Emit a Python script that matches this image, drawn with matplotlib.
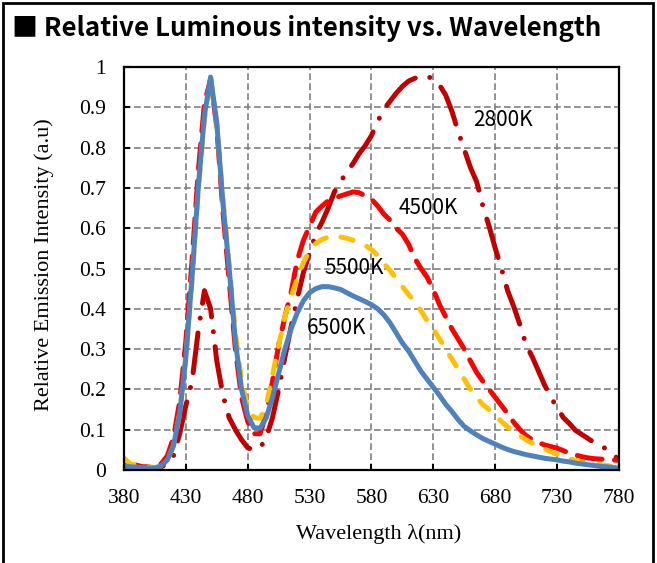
import matplotlib
matplotlib.use('Agg')
import matplotlib.pyplot as plt
from matplotlib.patches import Rectangle

# wavelength grid (nm)
wavelength = list(range(380, 781, 5))

# relative spectra per colour temperature
cct_2800 = [0.010, 0.008, 0.010, 0.006, 0.005, 0.005, 0.008, 0.015, 0.035, 0.090,
            0.160, 0.220, 0.345, 0.445, 0.400, 0.270, 0.185, 0.130, 0.100, 0.075,
            0.055, 0.050, 0.055, 0.080, 0.130, 0.200, 0.280, 0.355, 0.425, 0.490,
            0.540, 0.585, 0.615, 0.650, 0.690, 0.715, 0.740, 0.760, 0.785, 0.805,
            0.830, 0.865, 0.895, 0.915, 0.935, 0.952, 0.965, 0.972, 0.977, 0.977,
            0.970, 0.955, 0.930, 0.890, 0.840, 0.795, 0.750, 0.715, 0.655, 0.605,
            0.550, 0.500, 0.445, 0.405, 0.360, 0.310, 0.280, 0.245, 0.210, 0.180,
            0.155, 0.130, 0.115, 0.098, 0.088, 0.078, 0.068, 0.060, 0.052, 0.040,
            0.025]

cct_4500 = [0.012, 0.010, 0.012, 0.008, 0.008, 0.010, 0.015, 0.035, 0.080, 0.170,
            0.320, 0.520, 0.740, 0.910, 0.970, 0.850, 0.640, 0.470, 0.300, 0.180,
            0.120, 0.090, 0.090, 0.140, 0.220, 0.310, 0.380, 0.440, 0.520, 0.570,
            0.605, 0.640, 0.655, 0.668, 0.675, 0.680, 0.685, 0.690, 0.688, 0.680,
            0.672, 0.655, 0.635, 0.620, 0.600, 0.585, 0.560, 0.525, 0.500, 0.478,
            0.447, 0.410, 0.380, 0.350, 0.325, 0.300, 0.270, 0.242, 0.220, 0.200,
            0.180, 0.160, 0.140, 0.118, 0.100, 0.085, 0.075, 0.068, 0.062, 0.058,
            0.054, 0.048, 0.042, 0.037, 0.033, 0.030, 0.028, 0.027, 0.026, 0.025,
            0.024]

cct_5500 = [0.030, 0.015, 0.012, 0.010, 0.008, 0.006, 0.010, 0.025, 0.060, 0.140,
            0.280, 0.470, 0.690, 0.870, 0.965, 0.860, 0.670, 0.510, 0.340, 0.220,
            0.155, 0.130, 0.128, 0.160, 0.235, 0.310, 0.380, 0.430, 0.475, 0.515,
            0.545, 0.562, 0.572, 0.578, 0.580, 0.578, 0.575, 0.570, 0.565, 0.557,
            0.547, 0.532, 0.512, 0.495, 0.475, 0.455, 0.435, 0.418, 0.395, 0.370,
            0.350, 0.325, 0.300, 0.275, 0.250, 0.225, 0.200, 0.180, 0.162, 0.150,
            0.136, 0.120, 0.107, 0.095, 0.085, 0.075, 0.066, 0.059, 0.052, 0.045,
            0.039, 0.033, 0.028, 0.024, 0.020, 0.017, 0.015, 0.013, 0.011, 0.009,
            0.008]

cct_6500 = [0.010, 0.008, 0.007, 0.006, 0.005, 0.005, 0.010, 0.025, 0.060, 0.140,
            0.280, 0.480, 0.700, 0.880, 0.975, 0.860, 0.660, 0.500, 0.320, 0.200,
            0.135, 0.105, 0.104, 0.130, 0.180, 0.240, 0.300, 0.350, 0.390, 0.420,
            0.440, 0.450, 0.455, 0.455, 0.452, 0.448, 0.440, 0.432, 0.425, 0.418,
            0.410, 0.400, 0.385, 0.365, 0.340, 0.315, 0.295, 0.270, 0.245, 0.225,
            0.205, 0.185, 0.163, 0.145, 0.125, 0.108, 0.097, 0.087, 0.078, 0.071,
            0.064, 0.057, 0.051, 0.046, 0.042, 0.038, 0.035, 0.032, 0.029, 0.027,
            0.025, 0.022, 0.020, 0.017, 0.015, 0.013, 0.011, 0.009, 0.008, 0.006,
            0.005]

labels = ['2800K', '4500K', '5500K', '6500K']
label_pos = [(686, 0.868), (626, 0.650), (566, 0.501), (552, 0.352)]

plt.rcParams['font.family'] = ['Liberation Serif', 'DejaVu Serif']
sans = ['Noto Sans CJK KR', 'DejaVu Sans']

fig = plt.figure(figsize=(6.57, 5.63), dpi=100)
ax = fig.add_axes([124 / 657, 1 - 470 / 563, 495 / 657, 403 / 563])

lw = 3.6
ax.plot(wavelength, cct_2800, color='#C00000', lw=lw,
        dashes=(8, 3, 0.01, 3), dash_capstyle='round', solid_capstyle='round')
ax.plot(wavelength, cct_4500, color='#FF0000', lw=lw,
        dashes=(5, 2.5), dash_capstyle='round')
ax.plot(wavelength, cct_5500, color='#FFC000', lw=lw,
        dashes=(2.5, 3), dash_capstyle='round')
ax.plot(wavelength, cct_6500, color='#4F81BD', lw=lw,
        solid_capstyle='round', solid_joinstyle='round')

for text, (x, y) in zip(labels, label_pos):
    ax.text(x, y, text, fontsize=15, family=sans, ha='center', va='center')

ax.set_xlim(380, 780)
ax.set_ylim(0, 1)
ax.set_xticks(range(380, 781, 50))
ax.set_yticks([i / 10 for i in range(11)])
ax.set_yticklabels(['0'] + ['%.1f' % (i / 10) for i in range(1, 10)] + ['1'])
ax.grid(True, color='#808080', lw=1.2, linestyle=(0, (4, 2)))
ax.set_axisbelow(True)
for sp in ax.spines.values():
    sp.set_linewidth(1.6)
ax.tick_params(direction='in', length=4, width=1.5, labelsize=15.5)
ax.tick_params(axis='x', pad=14)
ax.tick_params(axis='y', pad=13)

ax.set_xlabel('Wavelength λ(nm)', fontsize=16)
ax.set_ylabel('Relative Emission Intensity (a.u)', fontsize=16)
ax.xaxis.set_label_coords(0.515, -0.134)
ax.yaxis.set_label_coords(-0.142, 0.51)

fig.text(12 / 657, 1 - 28 / 563, '■ Relative Luminous intensity vs. Wavelength',
         fontsize=18.7, fontweight='bold', family=sans, ha='left', va='center')

# outer frame around the whole card
fig.patches.append(Rectangle((3 / 657, -0.05), 650 / 657, 1 - 3 / 563 + 0.05,
                             transform=fig.transFigure, fill=False,
                             lw=2, ec='black'))

fig.savefig('out.png', dpi=100)
